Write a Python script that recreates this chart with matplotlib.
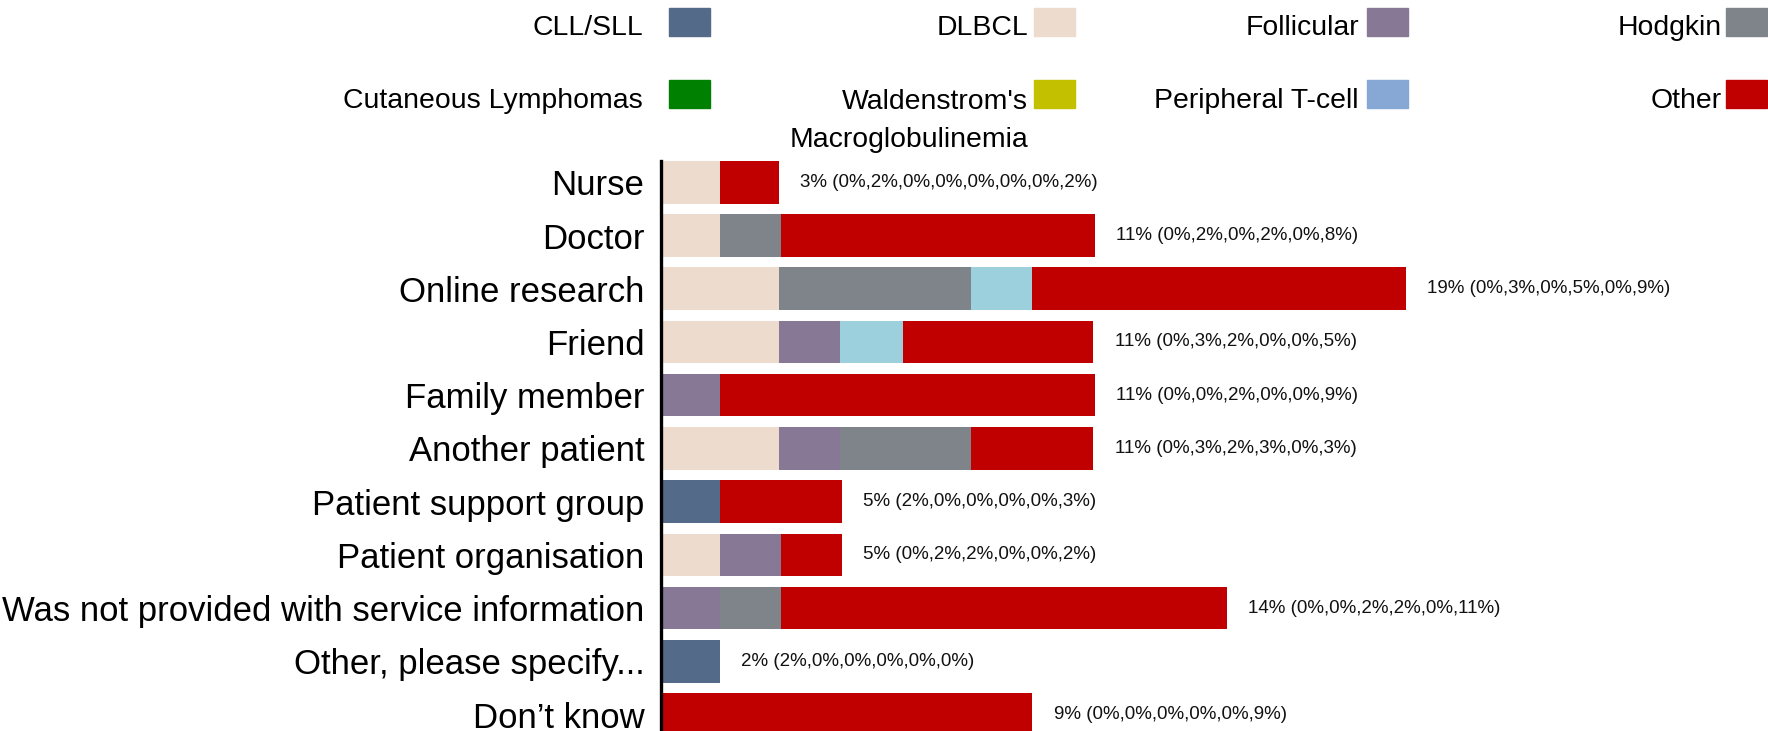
import matplotlib
matplotlib.use("Agg")
import matplotlib.pyplot as plt
from matplotlib.patches import Rectangle
import numpy as np

plt.rcParams['font.family'] = ['Liberation Sans', 'DejaVu Sans']

categories = [
    "Nurse", "Doctor", "Online research", "Friend", "Family member",
    "Another patient", "Patient support group", "Patient organisation",
    "Was not provided with service information", "Other, please specify...",
    "Don\u2019t know",
]

series_names = [
    "CLL/SLL", "DLBCL", "Follicular", "Hodgkin",
    "Cutaneous Lymphomas", "Waldenstrom's\nMacroglobulinemia",
    "Peripheral T-cell", "Other",
]

# Percent of respondents per subtype, per information source
cll_sll      = [0.0, 0.0,  0.0, 0.0,  0.0,  0.0,  1.5, 0.0,  0.0,   1.5, 0.0]
dlbcl        = [1.5, 1.5,  3.0, 3.0,  0.0,  3.0,  0.0, 1.5,  0.0,   0.0, 0.0]
follicular   = [0.0, 0.0,  0.0, 1.55, 1.5,  1.55, 0.0, 1.55, 1.5,   0.0, 0.0]
hodgkin      = [0.0, 1.55, 4.9, 0.0,  0.0,  3.35, 0.0, 0.0,  1.55,  0.0, 0.0]
cutaneous    = [0.0, 0.0,  0.0, 0.0,  0.0,  0.0,  0.0, 0.0,  0.0,   0.0, 0.0]
waldenstrom  = [0.0, 0.0,  0.0, 0.0,  0.0,  0.0,  0.0, 0.0,  0.0,   0.0, 0.0]
peripheral_t = [0.0, 0.0,  1.55, 1.6, 0.0,  0.0,  0.0, 0.0,  0.0,   0.0, 0.0]
other        = [1.5, 8.0,  9.5, 4.85, 9.55, 3.1,  3.1, 1.55, 11.35, 0.0, 9.45]

value_labels = [
    "3% (0%,2%,0%,0%,0%,0%,0%,2%)",
    "11% (0%,2%,0%,2%,0%,8%)",
    "19% (0%,3%,0%,5%,0%,9%)",
    "11% (0%,3%,2%,0%,0%,5%)",
    "11% (0%,0%,2%,0%,0%,9%)",
    "11% (0%,3%,2%,3%,0%,3%)",
    "5% (2%,0%,0%,0%,0%,3%)",
    "5% (0%,2%,2%,0%,0%,2%)",
    "14% (0%,0%,2%,2%,0%,11%)",
    "2% (2%,0%,0%,0%,0%,0%)",
    "9% (0%,0%,0%,0%,0%,9%)",
]

series_values = [cll_sll, dlbcl, follicular, hodgkin,
                 cutaneous, waldenstrom, peripheral_t, other]
bar_colors = ["#536A88", "#EDDBCD", "#877896", "#7F838A",
              "#008000", "#C3C000", "#9BD0DC", "#C00000"]
swatch_colors = ["#536A88", "#EDDBCD", "#877896", "#7F838A",
                 "#008000", "#C3C000", "#87A8D4", "#C00000"]

W, H = 1768, 731
fig = plt.figure(figsize=(W / 100, H / 100), dpi=100)

ax_left = 661 / W
ax_top = 161 / H
ax = fig.add_axes([ax_left, 0.0, 1 - ax_left, 1 - ax_top])

y = np.arange(len(categories))
left = np.zeros(len(categories))
for vals, col in zip(series_values, bar_colors):
    v = np.array(vals)
    ax.barh(y, v, left=left, height=0.8, color=col, linewidth=0)
    left += v

for yi, tot, lab in zip(y, left, value_labels):
    ax.text(tot + 0.54, yi, lab, ha="left", va="center", fontsize=13.5,
            color="#111111")

ax.set_xlim(0, (W - 661) / 39.3)
ax.set_ylim(10.31, -0.4)
ax.set_yticks(y)
ax.set_yticklabels(categories, fontsize=25.0)
ax.tick_params(axis="y", length=0, pad=12)
ax.set_xticks([])
for s in ("top", "right", "bottom"):
    ax.spines[s].set_visible(False)
ax.spines["left"].set_linewidth(2.4)
ax.spines["left"].set_color("black")

# Legend: two rows of four entries, label to the left of each swatch
col_text_right = [643, 1028, 1359, 1722]
col_box_left = [669, 1034, 1367, 1726]
box_w, box_h = 41, 28
row_box_center = [22, 94]
row_text_center = [28, 101]

for i, (name, col) in enumerate(zip(series_names, swatch_colors)):
    r, c = divmod(i, 4)
    bx = col_box_left[c]
    by = row_box_center[r]
    fig.patches.append(Rectangle((bx / W, 1 - (by + box_h / 2) / H),
                                 box_w / W, box_h / H, color=col,
                                 transform=fig.transFigure, figure=fig))
    if "\n" in name:
        fig.text(col_text_right[c] / W, 1 - (row_text_center[r] + 20) / H,
                 name, ha="right", va="center", multialignment="right",
                 fontsize=20.4, linespacing=1.62)
    else:
        fig.text(col_text_right[c] / W, 1 - row_text_center[r] / H, name,
                 ha="right", va="center", fontsize=20.4)

fig.savefig("out.png", dpi=100)
